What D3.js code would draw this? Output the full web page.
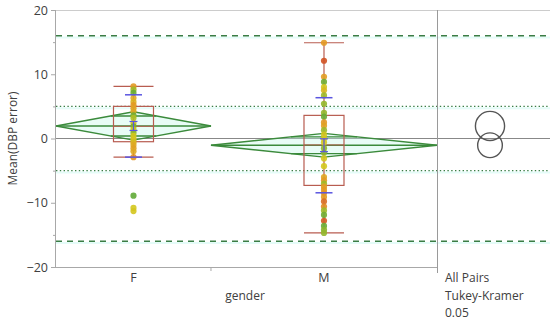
<!DOCTYPE html>
<html><head><meta charset="utf-8">
<script src="https://cdn.jsdelivr.net/npm/d3@7"></script>
<style>body{margin:0;background:#fff}svg{display:block}text{font-family:"Segoe UI","Open Sans","Noto Sans",sans-serif;fill:#404040}</style>
</head><body><svg id="c" width="550" height="325"></svg>
<script>
// ---- data ----
const groups = ["F", "M"];
// individual values (Mean(DBP error)) and a color variable (0=green .. 1=red)
const valuesF = [8.1, 7.6, 7.1, 6.3, 5.7, 5.2, 4.7, 4.2, 3.6, 3.2, 2.4, 1.9, 1.4, 0.9, 0.4, -0.1, -0.6, -1.0, -1.5, -2.0, -2.9, -8.9, -10.8, -11.3];
const colorF  = [0.7, 0.25, 0.1, 0.6, 0.55, 0.7, 0.65, 0.6, 0.12, 0.3, 0.45, 0.15, 0.38, 0.2, 0.4, 0.42, 0.5, 0.6, 0.65, 0.6, 0.72, 0.08, 0.4, 0.42];
const valuesM = [14.9, 12.1, 9.6, 8.8, 8.0, 7.5, 6.7, 5.4, 4.0, 3.4, 2.5, 2.0, 1.3, 0.6, 0.0, -0.6, -1.5, -2.2, -3.1, -4.3, -6.0, -6.5, -7.0, -7.5, -8.0, -8.5, -9.1, -9.8, -10.6, -11.2, -11.9, -12.8, -13.6, -14.2, -14.7];
const colorM  = [0.7, 0.95, 0.68, 0.12, 0.4, 0.5, 0.25, 0.22, 0.22, 0.1, 0.7, 0.65, 0.25, 0.4, 0.42, 0.4, 0.22, 0.2, 0.4, 0.4, 0.62, 0.7, 0.25, 0.68, 0.7, 0.72, 0.7, 0.85, 0.75, 0.25, 0.12, 0.92, 0.1, 0.2, 0.22];
// summary statistics
const means   = [1.95, -1.05];
const ciHalf  = [2.2, 1.85];
const sds     = [4.85, 7.4];
const ses     = [0.7, 1.0];
const q1      = [-0.5, -7.3];
const q3      = [5.0, 3.6];
const medians = [1.9, -1.0];
const whiskLo = [-2.9, -14.7];
const whiskHi = [8.1, 14.9];
const circleR = [2.27, 1.92];
const grandMean = 0;
const dashedRefs = [16, -16];
const dottedRefs = [5, -5];
const yMajor = [-20, -10, 0, 10, 20];
const yMinor = [-15, -5, 5, 15];
const footer = ["All Pairs", "Tukey-Kramer", "0.05"];

// ---- layout ----
const svg = d3.select("#c");
const L = 56, T = 10, B = 267, SEP = 437, R = 550;
const y = d3.scaleLinear().domain([-20, 20]).range([B, T]);
const counts = [valuesF.length, valuesM.length];
const cum = [0, counts[0], counts[0] + counts[1]];
const x = d3.scaleLinear().domain([0, cum[2]]).range([L, SEP]);
const left = i => x(cum[i]), right = i => x(cum[i + 1]), center = i => (left(i) + right(i)) / 2;
const color = d3.scaleLinear().domain([0, 0.4, 0.7, 1]).range(["#45a23c", "#d3c81e", "#e39a25", "#cf4424"]);

// frame
svg.append("line").attr("x1", L).attr("x2", R).attr("y1", T + 0.5).attr("y2", T + 0.5).attr("stroke", "#cccccc");

// reference lines
function refLine(v, dash, w) {
  svg.append("line").attr("x1", L).attr("x2", R).attr("y1", y(v) + 1.8).attr("y2", y(v) + 1.8)
    .attr("stroke", "rgba(170,245,232,0.3)").attr("stroke-width", 2);
  svg.append("line").attr("x1", L).attr("x2", R).attr("y1", y(v)).attr("y2", y(v))
    .attr("stroke", "#3a7d45").attr("stroke-width", w).attr("stroke-dasharray", dash);
}
dashedRefs.forEach(v => refLine(v, "6,5", 1.4));
dottedRefs.forEach(v => refLine(v, "1.4,2.4", 1.4));

// grand mean
svg.append("line").attr("x1", L).attr("x2", R).attr("y1", y(grandMean)).attr("y2", y(grandMean))
  .attr("stroke", "#888888").attr("stroke-width", 1);

// means diamonds
groups.forEach((g, i) => {
  const l = left(i), r = right(i), c = center(i), m = means[i], h = ciHalf[i];
  const pts = [[l, y(m)], [c, y(m + h)], [r, y(m)], [c, y(m - h)]];
  svg.append("path").attr("d", "M" + pts.join("L") + "Z")
    .attr("fill", "rgba(190,245,230,0.35)").attr("stroke", "#3b8a3b").attr("stroke-width", 1.4);
  svg.append("line").attr("x1", l).attr("x2", r).attr("y1", y(m)).attr("y2", y(m))
    .attr("stroke", "#3b8a3b").attr("stroke-width", 1.4);
  const k = 1 / Math.SQRT2, hw = (r - l) / 2 * (1 - k);
  [m + h * k, m - h * k].forEach(v => {
    svg.append("line").attr("x1", c - hw).attr("x2", c + hw).attr("y1", y(v)).attr("y2", y(v))
      .attr("stroke", "#3b8a3b").attr("stroke-width", 1.4);
  });
});

// box plots
const boxC = "#b85c50";
groups.forEach((g, i) => {
  const c = center(i), bw = 20;
  svg.append("rect").attr("x", c - bw).attr("y", y(q3[i])).attr("width", bw * 2).attr("height", y(q1[i]) - y(q3[i]))
    .attr("fill", "none").attr("stroke", boxC).attr("stroke-width", 1.2);
  svg.append("line").attr("x1", c - bw).attr("x2", c + bw).attr("y1", y(medians[i])).attr("y2", y(medians[i])).attr("stroke", boxC);
  svg.append("line").attr("x1", c).attr("x2", c).attr("y1", y(whiskHi[i])).attr("y2", y(whiskLo[i])).attr("stroke", boxC).attr("stroke-width", 1.2);
  [whiskHi[i], whiskLo[i]].forEach(v => svg.append("line").attr("x1", c - bw).attr("x2", c + bw).attr("y1", y(v)).attr("y2", y(v)).attr("stroke", boxC).attr("stroke-width", 1.2));
});

// points
[valuesF, valuesM].forEach((vals, i) => {
  const cols = i === 0 ? colorF : colorM;
  svg.append("g").selectAll("circle").data(vals).join("circle")
    .attr("cx", center(i)).attr("cy", d => y(d)).attr("r", 3.1)
    .attr("fill", (d, j) => color(cols[j])).attr("fill-opacity", 0.9);
});

// std dev lines and mean error bars
groups.forEach((g, i) => {
  const c = center(i), m = means[i];
  [m + sds[i], m - sds[i]].forEach(v => svg.append("line").attr("x1", c - 8.5).attr("x2", c + 8.5).attr("y1", y(v)).attr("y2", y(v)).attr("stroke", "#5a55e0").attr("stroke-width", 1.5));
  svg.append("line").attr("x1", c).attr("x2", c).attr("y1", y(m + ses[i])).attr("y2", y(m - ses[i])).attr("stroke", "#5a55e0").attr("stroke-width", 1.2);
  [m + ses[i], m - ses[i]].forEach(v => svg.append("line").attr("x1", c - 4).attr("x2", c + 4).attr("y1", y(v)).attr("y2", y(v)).attr("stroke", "#5a55e0").attr("stroke-width", 1.2));
});

// comparison circles
const cx = 490;
groups.forEach((g, i) => {
  svg.append("circle").attr("cx", cx).attr("cy", y(means[i])).attr("r", y(0) - y(circleR[i]))
    .attr("fill", "none").attr("stroke", "#555").attr("stroke-width", 1.4);
});

// y axis
const ya = svg.append("g").attr("transform", `translate(${L},0)`)
  .call(d3.axisLeft(y).tickValues(yMajor).tickSize(5).tickPadding(3));
ya.select(".domain").attr("stroke", "#a8a8a8").attr("d", `M-0.5,${T}V${B}`);
ya.selectAll(".tick line").attr("stroke", "#a8a8a8");
ya.selectAll("text").style("font-size", "12.5px").attr("fill", "#404040");
const ym = svg.append("g").attr("transform", `translate(${L},0)`)
  .call(d3.axisLeft(y).tickValues(yMinor).tickSize(3).tickFormat(""));
ym.select(".domain").remove();
ym.selectAll(".tick line").attr("stroke", "#a8a8a8");

svg.append("text").attr("transform", `translate(17,${(T + B) / 2}) rotate(-90)`)
  .attr("text-anchor", "middle").style("font-size", "12px").text("Mean(DBP error)");

// x axis
svg.append("line").attr("x1", L).attr("x2", SEP).attr("y1", B + 0.5).attr("y2", B + 0.5).attr("stroke", "#a8a8a8");
svg.append("line").attr("x1", left(1)).attr("x2", left(1)).attr("y1", B).attr("y2", B + 4).attr("stroke", "#a8a8a8");
svg.append("line").attr("x1", SEP + 0.5).attr("x2", SEP + 0.5).attr("y1", T).attr("y2", B + 6).attr("stroke", "#9a9a9a");
groups.forEach((g, i) => svg.append("text").attr("x", center(i)).attr("y", 282).attr("text-anchor", "middle").style("font-size", "12.5px").text(g));
svg.append("text").attr("x", 245).attr("y", 300).attr("text-anchor", "middle").style("font-size", "12px").text("gender");
footer.forEach((t, k) => svg.append("text").attr("x", 445).attr("y", 282 + k * 17.5).style("font-size", "12px").text(t));
</script></body></html>
